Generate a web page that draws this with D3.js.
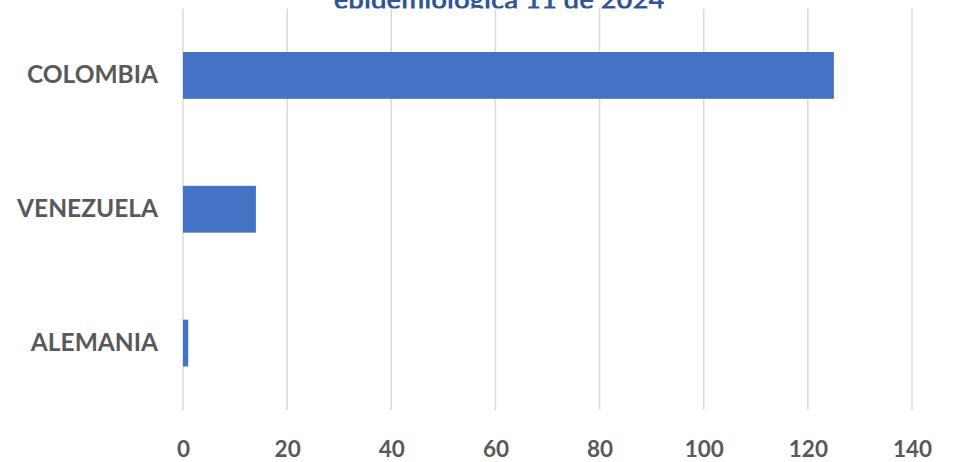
<!DOCTYPE html>
<html>
<head>
<meta charset="utf-8">
<script src="https://cdn.jsdelivr.net/npm/d3@7"></script>
<style>
  html, body { margin: 0; padding: 0; background: #fff; overflow: hidden; }
  svg { display: block; }
</style>
</head>
<body>
<svg id="chart" width="959" height="462"></svg>
<script>
const categories = ["COLOMBIA", "VENEZUELA", "ALEMANIA"];
const values = [125, 14, 1];
const xTicks = [0, 20, 40, 60, 80, 100, 120, 140];
const titleText = "epidemiológica 11 de 2024";

const svg = d3.select("#chart");
const W = 959, H = 462;
const m = { left: 183, right: 47, top: 8.5, bottom: 52 };
const font = "Lato, 'Open Sans', sans-serif";

const x = d3.scaleLinear().domain([0, 140]).range([m.left, W - m.right]);
const y = d3.scaleBand().domain(categories).range([m.top, H - m.bottom]).paddingInner(0.65).paddingOuter(0.325);

// title (only the last line visible; plot area overlaps it)
svg.append("text")
  .attr("x", 499).attr("y", 9)
  .attr("text-anchor", "middle")
  .attr("fill", "#2f5597")
  .style("font-family", font).style("font-weight", "bold").style("font-size", "27.5px")
  .text(titleText);

// plot area background
svg.append("rect")
  .attr("x", 0).attr("y", m.top).attr("width", W).attr("height", H - m.top)
  .attr("fill", "#fff");

// gridlines
svg.append("g").selectAll("line").data(xTicks).join("line")
  .attr("x1", d => x(d)).attr("x2", d => x(d))
  .attr("y1", m.top).attr("y2", H - m.bottom)
  .attr("stroke", "#d9d9d9").attr("stroke-width", 1.5);

// bars
svg.append("g").selectAll("rect").data(categories).join("rect")
  .attr("x", x(0))
  .attr("y", d => y(d))
  .attr("width", (d, i) => x(values[i]) - x(0))
  .attr("height", y.bandwidth())
  .attr("fill", "#4472c4");

// x axis labels
const xAxis = d3.axisBottom(x).tickValues(xTicks).tickSize(0).tickPadding(0);
const gx = svg.append("g").attr("transform", `translate(0,${H - m.bottom})`).call(xAxis);
gx.select(".domain").remove();
gx.selectAll("text")
  .attr("dy", null)
  .attr("y", 47)
  .attr("fill", "#595959")
  .style("font-family", font).style("font-weight", "bold").style("font-size", "22.5px");

// y axis labels
const yAxis = d3.axisLeft(y).tickSize(0).tickPadding(25);
const gy = svg.append("g").attr("transform", `translate(${m.left},0)`).call(yAxis);
gy.select(".domain").remove();
gy.selectAll("text")
  .attr("fill", "#595959")
  .style("font-family", font).style("font-weight", "bold").style("font-size", "24.5px");
</script>
</body>
</html>
